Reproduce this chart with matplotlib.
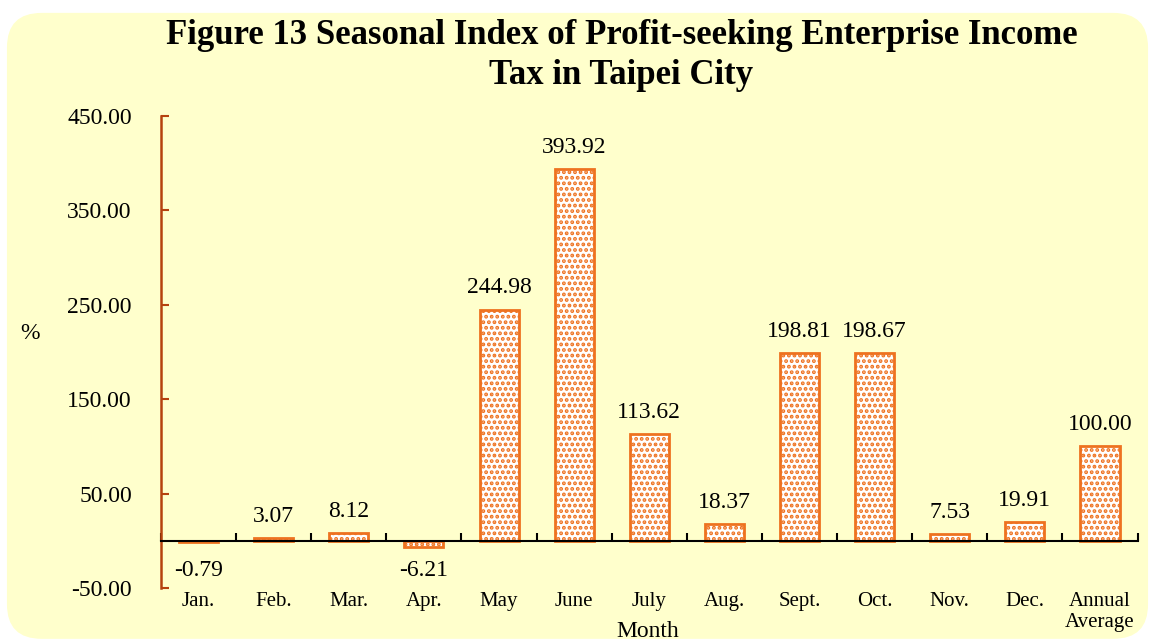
import numpy as np
import matplotlib
matplotlib.use('Agg')
from matplotlib import pyplot as plt
from matplotlib.patches import FancyBboxPatch

# Данные
months = ['Jan.', 'Feb.', 'Mar.', 'Apr.', 'May', 'June', 'July', 'Aug.',
          'Sept.', 'Oct.', 'Nov.', 'Dec.', 'Annual\nAverage']
index_values = [-0.79, 3.07, 8.12, -6.21, 244.98, 393.92, 113.62, 18.37,
                198.81, 198.67, 7.53, 19.91, 100.00]
y_ticks = [-50, 50, 150, 250, 350, 450]

plt.rcParams['font.family'] = ['Liberation Serif', 'DejaVu Serif']
plt.rcParams['hatch.linewidth'] = 1.9

bar_color = '#EE7220'
axis_color = '#B5420E'

fig = plt.figure(figsize=(11.55, 6.44), dpi=100)
fig.patch.set_facecolor('white')

# Фон с закруглёнными углами
bg = FancyBboxPatch((0.006, 0.008), 0.988, 0.972,
                    boxstyle='round,pad=0,rounding_size=0.03',
                    transform=fig.transFigure, facecolor='#FFFFCC',
                    edgecolor='none', zorder=-5, mutation_aspect=1155 / 644)
fig.patches.append(bg)

ax = fig.add_axes([0.1394, 0.0866, 0.8455, 0.7336])
ax.set_facecolor('none')
ax.set_zorder(2)

x = np.arange(len(months))
bars = ax.bar(x, index_values, width=0.52, facecolor='white',
              edgecolor=bar_color, linewidth=2.0, hatch='...', zorder=3)

ax.set_xlim(-0.5, len(months) - 0.5)
ax.set_ylim(-50, 450)
ax.set_yticks(y_ticks)
ax.set_yticklabels([f'{v:.2f}' for v in y_ticks], fontsize=17)
ax.tick_params(axis='y', direction='in', length=6, width=1.5,
               color=axis_color, pad=21)

# Ось X на нуле
ax.spines['bottom'].set_position(('data', 0))
ax.spines['bottom'].set_color('black')
ax.spines['bottom'].set_linewidth(1.5)
ax.spines['bottom'].set_zorder(4)
ax.spines['left'].set_color(axis_color)
ax.spines['left'].set_linewidth(1.8)
ax.spines['top'].set_visible(False)
ax.spines['right'].set_visible(False)
ax.set_xticks(np.arange(len(months) + 1) - 0.5)
ax.set_xticklabels([])
ax.tick_params(axis='x', direction='in', length=6, width=1.5, color='black')

# Подписи месяцев внизу
for i, m in enumerate(months):
    ax.annotate(m, xy=(i, 0), xycoords=('data', 'axes fraction'),
                xytext=(0, -3), textcoords='offset points',
                ha='center', va='top', fontsize=15, linespacing=1.1)

# Подписи значений
for i, v in enumerate(index_values):
    if v >= 0:
        ax.annotate(f'{v:.2f}', xy=(i, v), xytext=(0, 8),
                    textcoords='offset points', ha='center', va='bottom',
                    fontsize=17)
    else:
        ax.annotate(f'{v:.2f}', xy=(i, 0), xytext=(0, -14),
                    textcoords='offset points', ha='center', va='top',
                    fontsize=17)

fig.text(0.538, 0.914,
         'Figure 13 Seasonal Index of Profit-seeking Enterprise Income\nTax in Taipei City',
         ha='center', va='center', fontsize=25, fontweight='bold',
         linespacing=1.3)
fig.text(0.026, 0.482, '%', ha='center', va='center', fontsize=17)
fig.text(0.561, 0.02, 'Month', ha='center', va='center', fontsize=17)

fig.savefig('out.png', dpi=100, facecolor=fig.get_facecolor())
